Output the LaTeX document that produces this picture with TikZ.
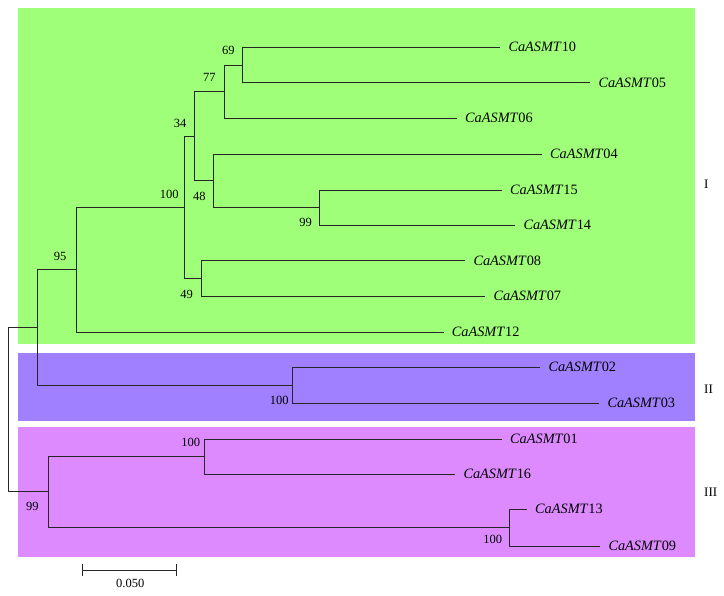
\documentclass[tikz,border=0pt]{standalone}
\usepackage{fontspec}
\setmainfont{Liberation Serif}
\usetikzlibrary{positioning}
\definecolor{cladeI}{RGB}{160,255,120}
\definecolor{cladeII}{RGB}{160,128,255}
\definecolor{cladeIII}{RGB}{222,138,255}
\begin{document}
\begin{tikzpicture}[
    x=1pt, y=-1pt,
    every node/.style={font=\fontsize{12.5}{14}\selectfont},
    br/.style={draw=black!85, line width=0.75pt},
    leaf/.style={anchor=west, inner sep=0pt, xshift=8pt, font=\fontsize{14.3}{16}\selectfont},
    bs/.style={inner sep=0pt},
    grp/.style={anchor=west, inner sep=0pt, font=\fontsize{13}{15}\selectfont},
]
    \useasboundingbox (0,0) rectangle (724,596);

    % clade backgrounds
    \fill[cladeI]   (18,8)     rectangle (695,344);
    \fill[cladeII]  (18,353.5) rectangle (695,421);
    \fill[cladeIII] (18,427)   rectangle (695,557);

    % inner nodes
    \coordinate (root) at (8.3,409.7);
    \coordinate (nA)   at (37.7,327.7);
    \coordinate (n95)  at (76,269.7);
    \coordinate (n100) at (184.7,207.3);
    \coordinate (n34)  at (194.3,136.3);
    \coordinate (n77)  at (224,91.7);
    \coordinate (n69)  at (242.7,65);
    \coordinate (n48)  at (213.3,180.7);
    \coordinate (n99a) at (319.3,207.7);
    \coordinate (n49)  at (201,278.3);
    \coordinate (nII)  at (292.7,385.3);
    \coordinate (n99)  at (48,491.7);
    \coordinate (n100c) at (204,456.7);
    \coordinate (n100d) at (509.7,527.3);

    % leaf tips
    \coordinate (t10) at (500.3,47.3);
    \coordinate (t05) at (590.3,82.7);
    \coordinate (t06) at (457,118.3);
    \coordinate (t04) at (542,154);
    \coordinate (t15) at (502,190);
    \coordinate (t14) at (515.3,225.3);
    \coordinate (t08) at (465.3,260.7);
    \coordinate (t07) at (485.3,296);
    \coordinate (t12) at (443.7,332);
    \coordinate (t02) at (540.3,367.3);
    \coordinate (t03) at (599.3,403.3);
    \coordinate (t01) at (502,439);
    \coordinate (t16) at (455.3,474.3);
    \coordinate (t13) at (527,509.3);
    \coordinate (t09) at (600.3,546);

    % leaf names
    \node[leaf] (CaASMT10) at (t10) {\textit{CaASMT}10};
    \node[leaf] (CaASMT05) at (t05) {\textit{CaASMT}05};
    \node[leaf] (CaASMT06) at (t06) {\textit{CaASMT}06};
    \node[leaf] (CaASMT04) at (t04) {\textit{CaASMT}04};
    \node[leaf] (CaASMT15) at (t15) {\textit{CaASMT}15};
    \node[leaf] (CaASMT14) at (t14) {\textit{CaASMT}14};
    \node[leaf] (CaASMT08) at (t08) {\textit{CaASMT}08};
    \node[leaf] (CaASMT07) at (t07) {\textit{CaASMT}07};
    \node[leaf] (CaASMT12) at (t12) {\textit{CaASMT}12};
    \node[leaf] (CaASMT02) at (t02) {\textit{CaASMT}02};
    \node[leaf] (CaASMT03) at (t03) {\textit{CaASMT}03};
    \node[leaf] (CaASMT01) at (t01) {\textit{CaASMT}01};
    \node[leaf] (CaASMT16) at (t16) {\textit{CaASMT}16};
    \node[leaf] (CaASMT13) at (t13) {\textit{CaASMT}13};
    \node[leaf] (CaASMT09) at (t09) {\textit{CaASMT}09};

    % branches
    \draw[br] (root) |- (nA);
    \draw[br] (root) |- (n99);
    \draw[br] (nA) |- (n95);
    \draw[br] (nA) |- (nII);
    \draw[br] (n95) |- (n100);
    \draw[br] (n95) |- (t12);
    \draw[br] (n100) |- (n34);
    \draw[br] (n100) |- (n49);
    \draw[br] (n34) |- (n77);
    \draw[br] (n34) |- (n48);
    \draw[br] (n77) |- (n69);
    \draw[br] (n77) |- (t06);
    \draw[br] (n69) |- (t10);
    \draw[br] (n69) |- (t05);
    \draw[br] (n48) |- (t04);
    \draw[br] (n48) |- (n99a);
    \draw[br] (n99a) |- (t15);
    \draw[br] (n99a) |- (t14);
    \draw[br] (n49) |- (t08);
    \draw[br] (n49) |- (t07);
    \draw[br] (nII) |- (t02);
    \draw[br] (nII) |- (t03);
    \draw[br] (n99) |- (n100c);
    \draw[br] (n99) |- (n100d);
    \draw[br] (n100c) |- (t01);
    \draw[br] (n100c) |- (t16);
    \draw[br] (n100d) |- (t13);
    \draw[br] (n100d) |- (t09);

    % bootstrap values
    \node[bs] (b69)   at (228.3,50)    {69};
    \node[bs] (b77)   at (209.3,77.7)  {77};
    \node[bs] (b34)   at (180,123.3)   {34};
    \node[bs] (b100)  at (169.3,194)   {100};
    \node[bs] (b48)   at (199.3,196.7) {48};
    \node[bs] (b99a)  at (305.7,222.7) {99};
    \node[bs] (b95)   at (60,256.7)    {95};
    \node[bs] (b49)   at (186.7,294)   {49};
    \node[bs] (bII)   at (279.3,400.7) {100};
    \node[bs] (b100c) at (190.7,442.7) {100};
    \node[bs] (b99)   at (32.3,506.7)  {99};
    \node[bs] (b100d) at (492.7,539.3) {100};

    % clade labels
    \node[grp] (gI)   at (704,184)   {I};
    \node[grp] (gII)  at (704,389.3) {II};
    \node[grp] (gIII) at (704,492.7) {III};

    % scale bar
    \coordinate (sbL) at (82.3,570);
    \coordinate (sbR) at (176,570);
    \draw[br] (sbL) -- (sbR);
    \draw[br] ([yshift=6pt]sbL) -- ([yshift=-6pt]sbL);
    \draw[br] ([yshift=6pt]sbR) -- ([yshift=-6pt]sbR);
    \node[bs] (sbLabel) at (130.3,583.5) {0.050};
\end{tikzpicture}
\end{document}
